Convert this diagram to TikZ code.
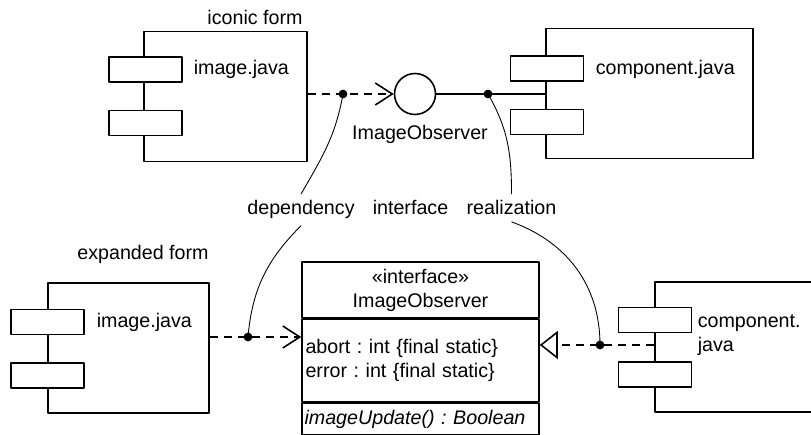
\documentclass[tikz,border=0pt]{standalone}
\usepackage{fontspec}
\setmainfont{Liberation Sans}
\usetikzlibrary{arrows.meta}
\frenchspacing
\begin{document}
\begin{tikzpicture}[x=0.02cm,y=0.02cm,line width=0.9pt,line join=round,
  font=\fontsize{11.2}{13.6}\selectfont,
  body/.style={draw,inner sep=0pt,minimum height=2.6cm},
  tab/.style={draw,fill=white,inner sep=0pt,minimum width=1.46cm,minimum height=0.5cm},
  box/.style={draw,inner sep=0pt,minimum width=4.74cm},
  dep/.style={dash pattern=on 4.5pt off 3.5pt},
  note/.style={line width=0.5pt},
  open v/.style={-{Straight Barb[length=0.34cm,width=0.44cm]}}]
\useasboundingbox (0,0) rectangle (811,435);
\clip (0,0) rectangle (811,435);
\path
(343,341) coordinate (dep1)
(488,341) coordinate (real1)
(248,98) coordinate (dep2)
(600,90) coordinate (real2)
;
\node[body,minimum width=3.26cm] (img1) at (225.5,338.5) {};
\node[body,minimum width=4.14cm] (cmp1) at (649.5,341.5) {};
\node[body,minimum width=3.22cm] (img2) at (128.5,87) {};
\node[body,minimum width=3.6cm,anchor=west] (cmp2) at (654,88) {};
\foreach \n/\x/\y in {img1a/145.5/365.5, img1b/145.5/312, cmp1a/547/366.5, cmp1b/547/313,
  img2a/47.5/113, img2b/47.5/59.5, cmp2a/655/115, cmp2b/655/60.5}
\node[tab] (\n) at (\x,\y) {};
\node[anchor=base] (iconic) at (255,410) {iconic form};
\node[anchor=base west,inner sep=0pt] (img1lbl) at (193,360) {image.java};
\node[anchor=base west,inner sep=0pt] (cmp1lbl) at (595,360) {component.java};
\node[circle,draw,minimum size=0.82cm] (obs) at (415,341) {};
\node[anchor=base] (obslbl) at (420,295) {ImageObserver};
\node[anchor=base] (deplbl) at (301,220) {dependency};
\node[anchor=base] (ifclbl) at (410.5,220) {interface};
\node[anchor=base] (reallbl) at (511.5,220) {realization};
\node[anchor=base] (expanded) at (143,175) {expanded form};
\node[anchor=base west,inner sep=0pt] (img2lbl) at (96,107) {image.java};
\node[anchor=west,inner sep=0pt,align=left] (cmp2lbl) at (697,100) {component.\\java};
\node[box,minimum height=1.12cm,align=center] (ifc) at (420.5,145) {«interface»\\ImageObserver};
\node[box,minimum height=1.64cm,anchor=north,text width=4.6cm,align=left,inner xsep=0.07cm]
  (attr) at (ifc.south) {abort : int \{final static\}\\error : int \{final static\}};
\node[box,minimum height=0.64cm,anchor=north,text width=4.64cm,align=left,inner xsep=0.05cm]
  (ops) at (attr.south) {\itshape imageUpdate() : Boolean};
\draw[dep,open v] (img1.east|-obs) -- (obs);
\draw (obs) -- (cmp1.west|-obs);
\draw[dep,open v] (img2.east|-dep2) -- (attr.west|-dep2);
\draw[dep,-{Triangle[open,length=0.36cm,width=0.56cm]}] (cmp2.west|-real2) -- (attr.east|-real2);
\draw[note] (dep1) to[out=-100,in=60] (deplbl.north);
\draw[note] (real1) to[out=-60,in=90] (reallbl.north);
\draw[note] (deplbl.south) to[out=-135,in=85] (dep2);
\draw[note] (reallbl.south) to[out=-20,in=90] (real2);
\foreach \p in {dep1,real1,dep2,real2}
\fill (\p) circle (2.5pt);
\end{tikzpicture}
\end{document}
